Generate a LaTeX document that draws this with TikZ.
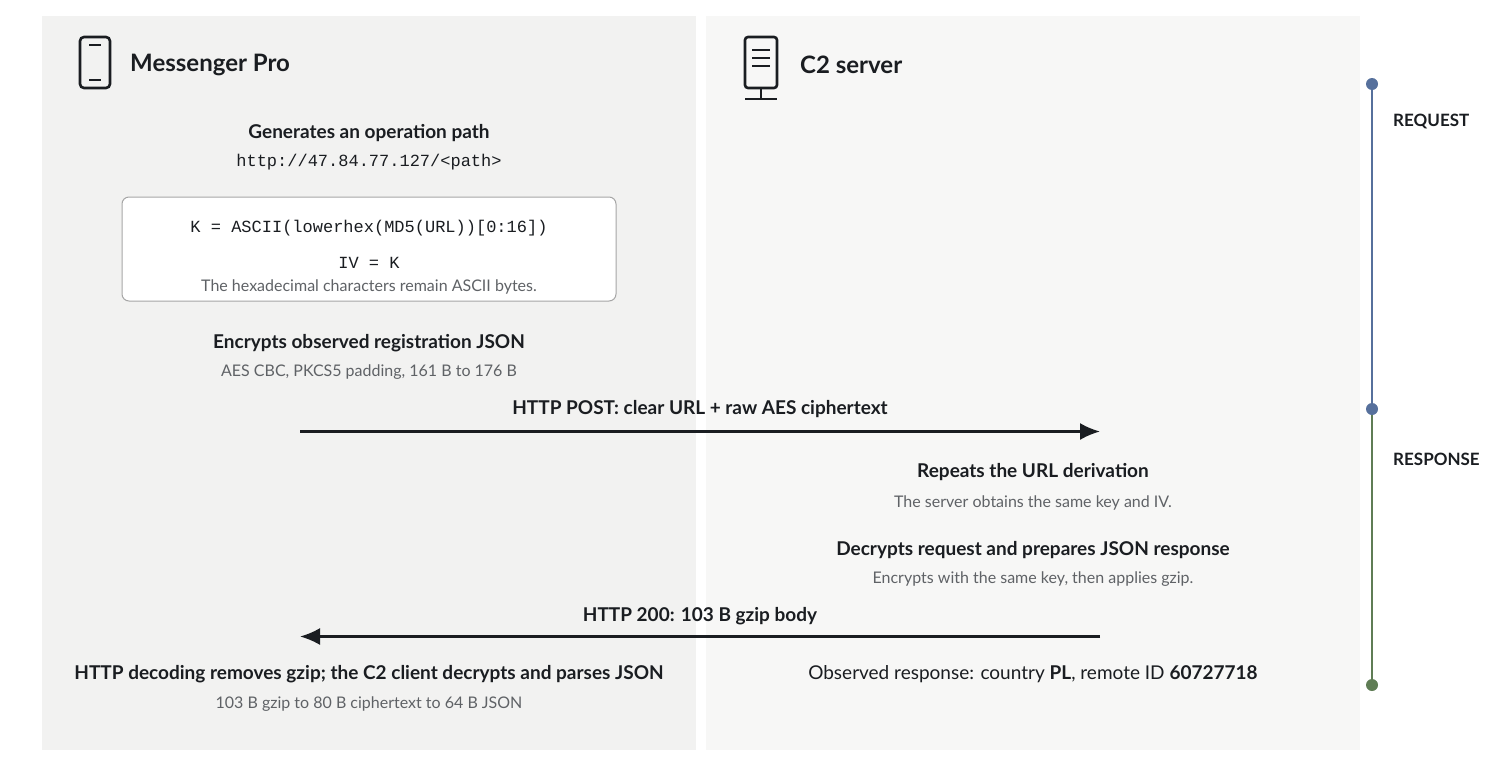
\documentclass[tikz,border=0pt]{standalone}
\usepackage{fontspec}
\setmainfont{Lato}
\setmonofont{Liberation Mono}
\usetikzlibrary{arrows.meta}
\definecolor{panelL}{HTML}{F2F2F1}
\definecolor{panelR}{HTML}{F7F7F6}
\definecolor{ink}{HTML}{1A1D21}
\definecolor{muted}{HTML}{5F6266}
\definecolor{reqline}{HTML}{56709C}
\definecolor{resline}{HTML}{5F7D55}
\tikzset{
  every node/.append style={yshift=-1.5pt},
  every coordinate/.append style={yshift=1.5pt},
  head/.style={font=\bfseries\fontsize{19}{22}\selectfont, text=ink},
  title/.style={font=\bfseries\fontsize{24}{28}\selectfont, text=ink, anchor=west, inner sep=0pt},
  note/.style={font=\fontsize{16}{19}\selectfont, text=muted},
  code/.style={font=\ttfamily\fontsize{17}{20}\selectfont, text=ink},
  msg/.style={-{Latex[length=20pt,width=17pt]}, line width=2.2pt, draw=ink},
  dot/.style={circle, fill=#1, inner sep=0pt, minimum size=12pt, yshift=1.5pt},
  phase/.style={font=\bfseries\fontsize{17}{20}\selectfont, text=ink, anchor=west, inner sep=0pt}
}
\begin{document}
\begin{tikzpicture}[x=1pt,y=-1pt]
\useasboundingbox (0,0) rectangle (1500,764);
% panels
\fill[panelL] (42,16) rectangle (696,750);
\fill[panelR] (706,16) rectangle (1360,750);
% phone icon
\draw[ink, line width=2.6pt, rounded corners=4pt] (80,37) rectangle (110,88);
\draw[ink, line width=2.6pt] (89,45) -- (101,45) (89,80) -- (101,80);
\node[title] (client) at (130,63) {Messenger Pro};
% server icon
\draw[ink, line width=2.6pt, rounded corners=3pt] (745,37) rectangle (777,88);
\draw[ink, line width=2.6pt] (752,50) -- (770,50) (752,58) -- (770,58) (752,66) -- (770,66)
  (761,88) -- (761,99) (745,99) -- (777,99);
\node[title] (server) at (800,63) {C2 server};
% client side
\node[head] (genpath) at (369,132) {Generates an operation path};
\node[code] (url) at (369,161) {http://47.84.77.127/<path>};
\draw[draw=black!35, line width=1pt, fill=white, rounded corners=7pt] (122,197) rectangle (616,301);
\node[code] (key) at (369,227) {K = ASCII(lowerhex(MD5(URL))[0:16])};
\node[code] (iv) at (369,261) {IV = K};
\node[note] (hexnote) at (369,285) {The hexadecimal characters remain ASCII bytes.};
\node[head] (encrypt) at (369,342) {Encrypts observed registration JSON};
\node[note] (aes) at (369,371) {AES CBC, PKCS5 padding, 161 B to 176 B};
% request
\coordinate (postL) at (300,430);
\coordinate (postR) at (1100,430);
\draw[msg] (postL) -- (postR);
\node[head] (post) at (700,408) {HTTP POST: clear URL + raw AES ciphertext};
% server side
\node[head] (repeat) at (1033,471) {Repeats the URL derivation};
\node[note] (same) at (1033,501) {The server obtains the same key and IV.};
\node[head] (decrypt) at (1033,549) {Decrypts request and prepares JSON response};
\node[note] (gzip) at (1033,578) {Encrypts with the same key, then applies gzip.};
% response
\coordinate (respR) at (1100,635);
\coordinate (respL) at (300,635);
\draw[msg] (respR) -- (respL);
\node[head] (http200) at (700,615) {HTTP 200: 103 B gzip body};
\node[head] (decode) at (369,673) {HTTP decoding removes gzip; the C2 client decrypts and parses JSON};
\node[note] (sizes) at (369,703) {103 B gzip to 80 B ciphertext to 64 B JSON};
\node[font=\fontsize{19}{22}\selectfont, text=ink] (observed) at (1033,673) {Observed response: country \textbf{PL}, remote ID \textbf{60727718}};
% timeline
\node[dot=reqline] (t0) at (1372,84) {};
\node[dot=reqline] (t1) at (1372,409) {};
\node[dot=resline] (t2) at (1372,685) {};
\draw[reqline, line width=2.8pt] (t0) -- (t1);
\draw[resline, line width=2.8pt] (t1) -- (t2);
\node[phase] (request) at (1393,120) {REQUEST};
\node[phase] (response) at (1393,458) {RESPONSE};
\end{tikzpicture}
\end{document}
